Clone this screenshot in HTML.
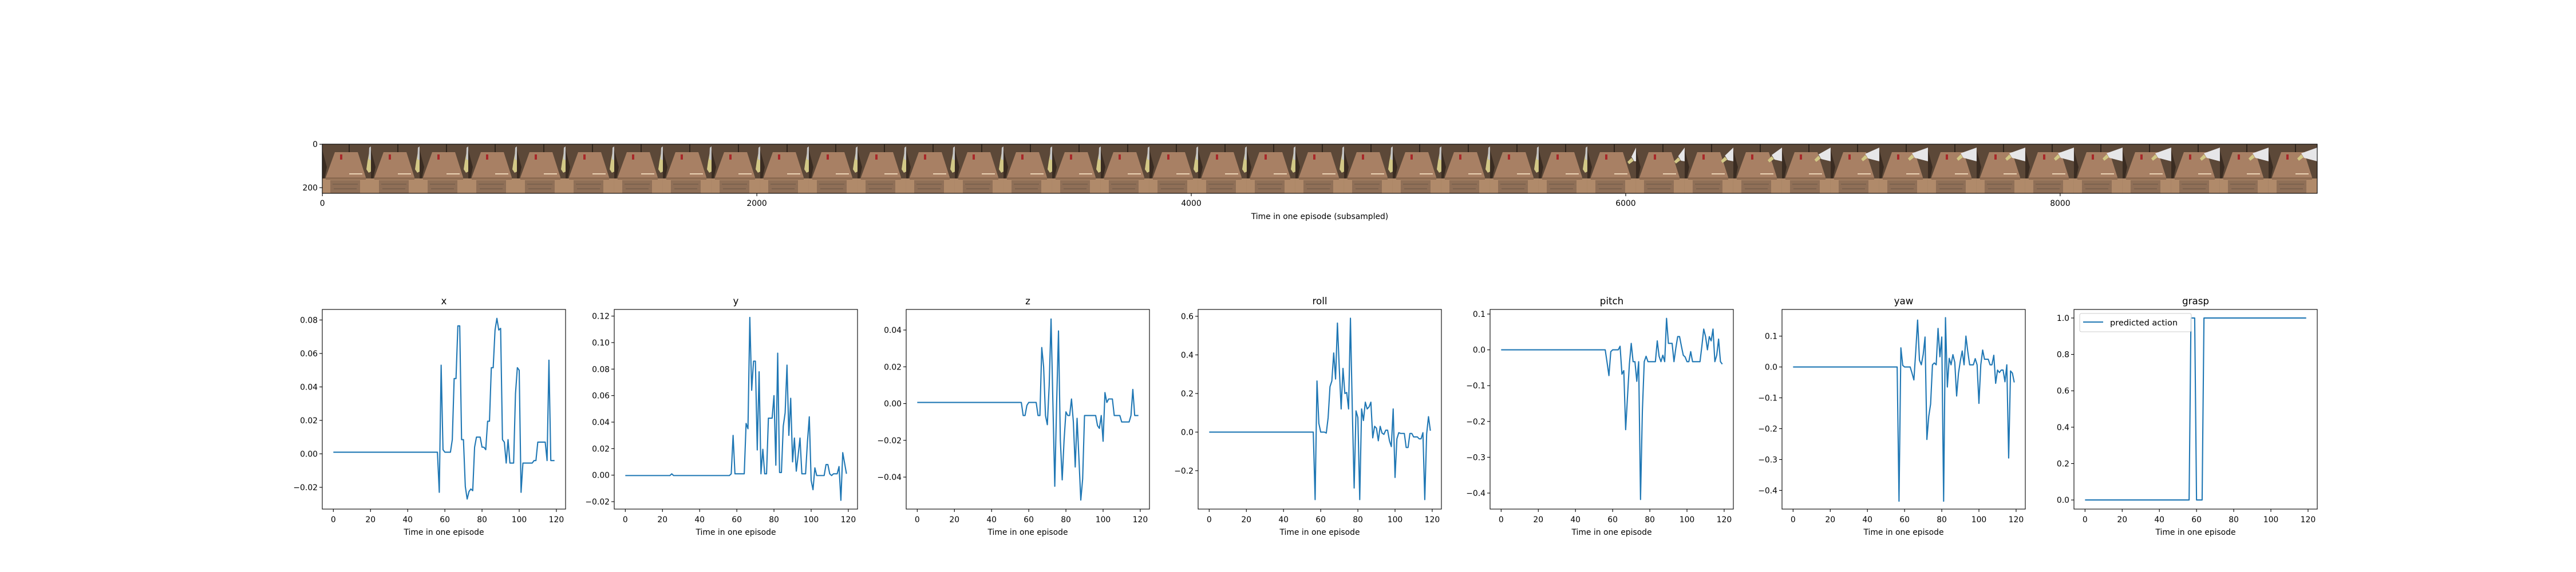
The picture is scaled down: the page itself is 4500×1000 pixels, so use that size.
<!DOCTYPE html>
<html>
<head>
<meta charset="utf-8">
<style>
html,body{margin:0;padding:0;background:#fff;}
svg{display:block;}
text{font-family:"DejaVu Sans","Liberation Sans",sans-serif;fill:#000;}
</style>
</head>
<body>
<svg id="root" width="4500" height="1000" viewBox="0 0 4500 1000" xmlns="http://www.w3.org/2000/svg">
<rect x="0" y="0" width="4500" height="1000" fill="#fff"/>
<g id="strip"></g>
<g id="plots"></g>
</svg>
<script>
// ---------- data ----------
const timeSteps = [0,20,40,60,80,100,120];
const seriesNames = ["x","y","z","roll","pitch","yaw","grasp"];

const seriesX = [
0.001,0.001,0.001,0.001,0.001,0.001,0.001,0.001,0.001,0.001,
0.001,0.001,0.001,0.001,0.001,0.001,0.001,0.001,0.001,0.001,
0.001,0.001,0.001,0.001,0.001,0.001,0.001,0.001,0.001,0.001,
0.001,0.001,0.001,0.001,0.001,0.001,0.001,0.001,0.001,0.001,
0.001,0.001,0.001,0.001,0.001,0.001,0.001,0.001,0.001,0.001,
0.001,0.001,0.001,0.001,0.001,0.001,0.001,
-0.023,0.053,0.0025,0.001,0.001,0.001,0.001,0.0085,0.045,0.045,0.0765,0.0765,0.0085,0.0085,-0.0195,-0.027,-0.0225,-0.021,-0.022,0.004,0.010,0.010,0.010,0.004,0.004,0.0025,0.0195,0.0195,0.0515,0.0515,0.074,0.081,0.074,0.075,0.0085,0.007,-0.0055,0.0085,-0.0055,-0.0055,-0.0055,0.036,0.0515,0.050,-0.023,-0.0055,-0.0055,-0.0055,-0.0055,-0.0055,-0.0055,-0.004,-0.004,0.007,0.007,0.007,0.007,0.007,-0.004,0.056,-0.004,-0.004,-0.004];

const seriesY = [
-0.0003,-0.0003,-0.0003,-0.0003,-0.0003,-0.0003,-0.0003,-0.0003,-0.0003,-0.0003,
-0.0003,-0.0003,-0.0003,-0.0003,-0.0003,-0.0003,-0.0003,-0.0003,-0.0003,-0.0003,
-0.0003,-0.0003,-0.0003,-0.0003,-0.0003,0.001,-0.0003,-0.0003,-0.0003,-0.0003,
-0.0003,-0.0003,-0.0003,-0.0003,-0.0003,-0.0003,-0.0003,-0.0003,-0.0003,-0.0003,
-0.0003,-0.0003,-0.0003,-0.0003,-0.0003,-0.0003,-0.0003,-0.0003,-0.0003,-0.0003,
-0.0003,-0.0003,-0.0003,-0.0003,-0.0003,-0.0003,-0.0003,
0.001,0.030,0.001,0.001,0.001,0.001,0.001,0.001,0.039,0.035,0.119,0.064,0.086,0.086,0.019,0.078,0.001,0.0195,0.001,0.001,0.043,0.043,0.043,0.060,0.0075,0.092,0.002,0.002,0.037,0.047,0.083,0.030,0.058,0.010,0.028,0.003,0.015,0.028,0.001,0.001,0.001,0.025,0.044,-0.004,-0.011,0.0055,-0.0003,-0.0003,-0.0003,-0.0003,-0.0003,0.008,0.008,0.001,-0.0003,0.001,0.001,0.001,0.0065,-0.019,0.017,0.009,0.001];

const seriesZ = [
0.0006,0.0006,0.0006,0.0006,0.0006,0.0006,0.0006,0.0006,0.0006,0.0006,
0.0006,0.0006,0.0006,0.0006,0.0006,0.0006,0.0006,0.0006,0.0006,0.0006,
0.0006,0.0006,0.0006,0.0006,0.0006,0.0006,0.0006,0.0006,0.0006,0.0006,
0.0006,0.0006,0.0006,0.0006,0.0006,0.0006,0.0006,0.0006,0.0006,0.0006,
0.0006,0.0006,0.0006,0.0006,0.0006,0.0006,0.0006,0.0006,0.0006,0.0006,
0.0006,0.0006,0.0006,0.0006,0.0006,0.0006,0.0006,
-0.0065,-0.0065,-0.001,0.0006,0.0006,0.0006,0.0006,0.0006,-0.0065,-0.0065,0.0305,0.020,-0.0065,-0.0115,0.010,0.046,0.000,-0.045,0.000,0.0395,-0.020,-0.0415,-0.020,-0.0045,-0.0065,-0.0065,0.0025,-0.010,-0.0345,-0.008,-0.030,-0.0525,-0.041,-0.0065,
-0.0065,-0.0065,-0.0065,-0.0065,-0.0065,-0.0065,-0.012,-0.0135,-0.0065,-0.0205,0.006,0.0006,0.0025,0.0025,0.0025,-0.0065,-0.0065,-0.0065,-0.0065,-0.010,-0.010,-0.010,-0.010,-0.010,-0.0065,0.0077,-0.0065,-0.0065,-0.0065];

const seriesRoll = [
0,0,0,0,0,0,0,0,0,0, 0,0,0,0,0,0,0,0,0,0, 0,0,0,0,0,0,0,0,0,0,
0,0,0,0,0,0,0,0,0,0, 0,0,0,0,0,0,0,0,0,0, 0,0,0,0,0,0,0,
-0.35,0.265,0.045,0,0,0,-0.005,0.075,0.235,0.265,0.41,0.275,0.565,0.33,0.12,0.33,0.2,0.205,0.12,0.59,0.12,-0.29,0.11,0.075,-0.35,0.12,0.06,0.155,0.12,0.13,0.155,-0.03,0.03,0.02,-0.045,0.03,-0.005,-0.012,0.01,0.01,-0.045,-0.075,0.12,-0.235,-0.035,-0.003,-0.007,-0.007,-0.007,-0.08,-0.08,-0.007,-0.007,-0.025,-0.025,-0.025,-0.035,-0.035,-0.003,-0.35,-0.01,0.08,0.007];

const seriesPitch = [
0,0,0,0,0,0,0,0,0,0, 0,0,0,0,0,0,0,0,0,0, 0,0,0,0,0,0,0,0,0,0,
0,0,0,0,0,0,0,0,0,0, 0,0,0,0,0,0,0,0,0,0, 0,0,0,0,0,0,0,
-0.035,-0.072,-0.005,0,0,0,0,0.01,-0.068,-0.058,-0.223,-0.13,-0.04,0.018,-0.033,-0.033,-0.088,-0.033,-0.418,-0.17,-0.033,-0.018,-0.033,-0.033,-0.033,-0.033,-0.033,0.025,-0.018,-0.033,-0.015,-0.033,0.088,0.018,0.018,0.018,-0.033,0.005,0.037,0.037,0.01,-0.015,-0.02,-0.033,-0.033,-0.005,-0.033,-0.033,-0.033,-0.033,-0.033,0.01,0.058,0.037,0,0.037,0.025,0.058,-0.033,-0.015,0.03,-0.033,-0.04];

const seriesYaw = [
0,0,0,0,0,0,0,0,0,0, 0,0,0,0,0,0,0,0,0,0, 0,0,0,0,0,0,0,0,0,0,
0,0,0,0,0,0,0,0,0,0, 0,0,0,0,0,0,0,0,0,0, 0,0,0,0,0,0,0,
-0.435,0.062,0.005,0,0,0,0,-0.02,-0.042,0.05,0.152,0.022,0.007,0.04,0.097,-0.235,-0.16,-0.12,0.007,0.013,0.007,0.125,0.033,0.097,-0.435,0.16,-0.065,0.028,0.007,0.04,0.015,-0.094,-0.02,0.02,0.052,0.007,0.1,0.05,0.007,0.007,0.007,0.027,0.007,-0.118,0.007,0.055,0.025,0.025,0.025,0.007,0.007,0.038,-0.053,-0.01,-0.018,-0.01,-0.01,-0.048,0.007,-0.295,-0.013,-0.02,-0.05];

const seriesGrasp = [
0,0,0,0,0,0,0,0,0,0, 0,0,0,0,0,0,0,0,0,0, 0,0,0,0,0,0,0,0,0,0,
0,0,0,0,0,0,0,0,0,0, 0,0,0,0,0,0,0,0,0,0, 0,0,0,0,0,0,0,
1,1,1,0,0,0,0,
1,1,1,1,1,1,1,1,1,1, 1,1,1,1,1,1,1,1,1,1, 1,1,1,1,1,1,1,1,1,1,
1,1,1,1,1,1,1,1,1,1, 1,1,1,1,1,1,1,1,1,1, 1,1,1,1,1,1];

const yTicksX = [-0.02,0,0.02,0.04,0.06,0.08];
const yTickLabelsX = ["−0.02","0.00","0.02","0.04","0.06","0.08"];
const yTicksY = [-0.02,0,0.02,0.04,0.06,0.08,0.10,0.12];
const yTickLabelsY = ["−0.02","0.00","0.02","0.04","0.06","0.08","0.10","0.12"];
const yTicksZ = [-0.04,-0.02,0,0.02,0.04];
const yTickLabelsZ = ["−0.04","−0.02","0.00","0.02","0.04"];
const yTicksRoll = [-0.2,0,0.2,0.4,0.6];
const yTickLabelsRoll = ["−0.2","0.0","0.2","0.4","0.6"];
const yTicksPitch = [-0.4,-0.3,-0.2,-0.1,0,0.1];
const yTickLabelsPitch = ["−0.4","−0.3","−0.2","−0.1","0.0","0.1"];
const yTicksYaw = [-0.4,-0.3,-0.2,-0.1,0,0.1];
const yTickLabelsYaw = ["−0.4","−0.3","−0.2","−0.1","0.0","0.1"];
const yTicksGrasp = [0,0.2,0.4,0.6,0.8,1.0];
const yTickLabelsGrasp = ["0.0","0.2","0.4","0.6","0.8","1.0"];

const stripTicks = [0,2000,4000,6000,8000];
const stripYTicks = [0,200];

// ---------- layout ----------
const NS = "http://www.w3.org/2000/svg";
function mk(tag, attrs, parent){
  const e = document.createElementNS(NS, tag);
  for (const k in attrs) e.setAttribute(k, attrs[k]);
  parent.appendChild(e);
  return e;
}
const plotsG = document.getElementById('plots');
const stripG = document.getElementById('strip');

const allSeries = [seriesX, seriesY, seriesZ, seriesRoll, seriesPitch, seriesYaw, seriesGrasp];
const allTicks = [yTicksX, yTicksY, yTicksZ, yTicksRoll, yTicksPitch, yTicksYaw, yTicksGrasp];
const allTickLabels = [yTickLabelsX, yTickLabelsY, yTickLabelsZ, yTickLabelsRoll, yTickLabelsPitch, yTickLabelsYaw, yTickLabelsGrasp];
const ylims = [[-0.033,0.0863],[-0.0256,0.125],[-0.0574,0.0512],[-0.399,0.6355],[-0.4447,0.1128],[-0.4605,0.1864],[-0.05,1.047]];

const AX_TOP = 541, AX_BOT = 890, AX_W = 425;
for (let p = 0; p < 7; p++) {
  const L = 563 + 510 * p;
  const g = mk('g', {}, plotsG);
  
  
  const xs = t => L + (t + 5.95) / 130.9 * AX_W;
  const [lo, hi] = ylims[p];
  const ys = v => AX_BOT - (v - lo) / (hi - lo) * (AX_BOT - AX_TOP);

  const title = mk('text', {x: L + AX_W/2, y: 532, 'font-size': 16.7, 'text-anchor': 'middle'}, g);
  
  
  title.textContent = seriesNames[p];

  timeSteps.forEach(t => {
    const x = xs(t);
    const tk = mk('line', {x1: x, x2: x, y1: AX_BOT, y2: AX_BOT + 5, stroke: '#000', 'stroke-width': 1.1}, g);
    
    
    const lb = mk('text', {x: x, y: 913, 'font-size': 13.9, 'text-anchor': 'middle'}, g);
    
    
    lb.textContent = String(t);
  });
  allTicks[p].forEach((v, i) => {
    const y = ys(v);
    const tk = mk('line', {x1: L - 5, x2: L, y1: y, y2: y, stroke: '#000', 'stroke-width': 1.1}, g);
    
    
    const lb = mk('text', {x: L - 8, y: y + 5, 'font-size': 13.9, 'text-anchor': 'end'}, g);
    
    
    lb.textContent = allTickLabels[p][i];
  });
  const pts = allSeries[p].map((v, t) => xs(t).toFixed(2) + ',' + ys(v).toFixed(2)).join(' ');
  const ln = mk('polyline', {points: pts, fill: 'none', stroke: '#1f77b4', 'stroke-width': 2.1, 'stroke-linejoin': 'round'}, g);
  
  

  const fr = mk('rect', {x: L, y: AX_TOP, width: AX_W, height: AX_BOT - AX_TOP, fill: 'none', stroke: '#000', 'stroke-width': 1.1}, g);
  
  

  const xl = mk('text', {x: L + AX_W/2, y: 935, 'font-size': 13.9, 'text-anchor': 'middle'}, g);
  
  
  xl.textContent = 'Time in one episode';

  if (p === 6) {
    const lg = mk('g', {}, g);
    
    
    mk('rect', {x: 3633, y: 548, width: 195, height: 32, rx: 3, fill: '#fff', 'fill-opacity': 0.8, stroke: '#ccc', 'stroke-width': 1}, lg);
    const ls = mk('line', {x1: 3639, x2: 3674, y1: 563, y2: 563, stroke: '#1f77b4', 'stroke-width': 2.1}, lg);
    
    
    const lt = mk('text', {x: 3686, y: 569, 'font-size': 14.5}, lg);
    
    
    lt.textContent = 'predicted action';
  }
}

// ---------- frame strip ----------
const S_L = 563, S_T = 252, S_H = 86, S_PX = 0.37946, NFRAMES = 41;
const fw = 224 * S_PX;
for (let i = 0; i < NFRAMES; i++) {
  const x0 = S_L + i * fw;
  const f = mk('g', {transform: 'translate(' + x0.toFixed(2) + ',' + S_T + ')'}, stripG);
  
  
  mk('rect', {x: 0, y: 0, width: fw + 0.5, height: S_H, fill: '#5c4838'}, f);
  mk('line', {x1: 47, x2: 47, y1: 0, y2: 14, stroke: '#221a14', 'stroke-width': 1.5}, f);
  mk('polygon', {points: '0,10 8,40 4,60 0,60', fill: '#3a2c22'}, f);
  mk('polygon', {points: '0,60 85,60 85,86 0,86', fill: '#b08a6a'}, f);
  mk('rect', {x: 14, y: 63, width: 52, height: 23, fill: '#8f6f57'}, f);
  mk('line', {x1: 18, x2: 62, y1: 70, y2: 70, stroke: '#6a5444', 'stroke-width': 1}, f);
  mk('line', {x1: 20, x2: 60, y1: 78, y2: 78, stroke: '#6a5444', 'stroke-width': 1}, f);
  mk('polygon', {points: '22,14 62,14 76,58 6,58', fill: '#a88064'}, f);
  mk('polygon', {points: '6,58 76,58 76,62 6,62', fill: '#8e6c52'}, f);
  mk('rect', {x: 47, y: 51, width: 23, height: 2, fill: '#ead2b4'}, f);
  mk('rect', {x: 31, y: 18, width: 4, height: 9, fill: '#a8282a'}, f);
  if (i < 26) {
    mk('polygon', {points: '82,14 85,12 85,48 81,50 77,44 79,30', fill: '#d2c886'}, f);
    mk('polygon', {points: '82,6 85,4 85,28 81,26', fill: '#c4c4c4'}, f);
  } else {
    const k = Math.min(1, (i - 26) / 6);
    const hx = 78 - 20 * k, hy = 26 - 6 * k;
    mk('polygon', {points: '85,6 85,30 ' + (hx + 4) + ',' + (hy + 4) + ' ' + (hx - 1) + ',' + (hy - 4), fill: '#e6e6e8'}, f);
    mk('polygon', {points: (hx - 1) + ',' + (hy - 2) + ' ' + (hx + 3) + ',' + (hy + 3) + ' ' + (hx - 5) + ',' + (hy + 9) + ' ' + (hx - 8) + ',' + (hy + 5), fill: '#d2c886'}, f);
  }
}
const sb = mk('rect', {x: S_L, y: S_T, width: NFRAMES * fw, height: S_H, fill: 'none', stroke: '#000', 'stroke-width': 1.1}, stripG);


stripTicks.forEach(v => {
  const x = S_L + (v + 0.5) * S_PX;
  const tk = mk('line', {x1: x, x2: x, y1: S_T + S_H, y2: S_T + S_H + 5, stroke: '#000', 'stroke-width': 1.1}, stripG);
  
  
  const lb = mk('text', {x: x, y: 360, 'font-size': 13.9, 'text-anchor': 'middle'}, stripG);
  
  
  lb.textContent = String(v);
});
stripYTicks.forEach(v => {
  const y = S_T + (v + 0.5) * S_PX;
  const tk = mk('line', {x1: S_L - 5, x2: S_L, y1: y, y2: y, stroke: '#000', 'stroke-width': 1.1}, stripG);
  
  
  const lb = mk('text', {x: S_L - 8, y: y + 5, 'font-size': 13.9, 'text-anchor': 'end'}, stripG);
  
  
  lb.textContent = String(v);
});
const sxl = mk('text', {x: S_L + NFRAMES * fw / 2, y: 383, 'font-size': 13.9, 'text-anchor': 'middle'}, stripG);


sxl.textContent = 'Time in one episode (subsampled)';
</script>
</body>
</html>
